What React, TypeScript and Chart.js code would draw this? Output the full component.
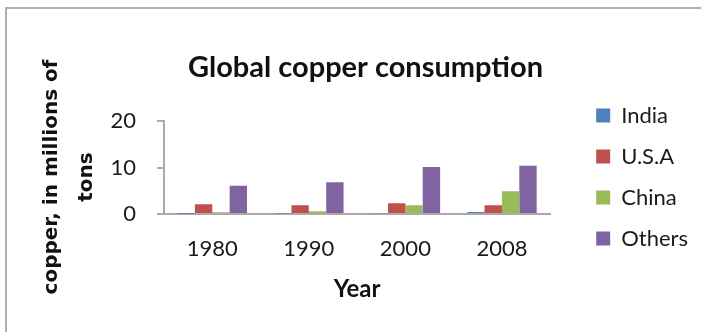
import React, { useEffect, useRef } from "react";
import { Chart, registerables } from "chart.js";

Chart.register(...registerables);

// Copper consumption, millions of tons
const years = ["1980", "1990", "2000", "2008"];
const india = [0.05, 0.1, 0.15, 0.45];
const usa = [2.1, 1.9, 2.3, 1.9];
const china = [0.4, 0.6, 1.9, 4.9];
const others = [6.1, 6.85, 10.1, 10.35];
const yTicks = [0, 10, 20];

const seriesNames = ["India", "U.S.A", "China", "Others"];
const seriesColors = ["#4f81bd", "#c0504d", "#9bbb59", "#8064a2"];

const W = 701;
const H = 332;

export default function App() {
  const canvasRef = useRef<HTMLCanvasElement | null>(null);

  useEffect(() => {
    const canvas = canvasRef.current;
    if (!canvas) return;
    const values = [india, usa, china, others];
    const axisGray = "#aaaaaa";
    const textColor = "#1a1a1a";

    const chart = new Chart(canvas, {
      type: "bar",
      data: {
        labels: years,
        datasets: seriesNames.map((name, i) => ({
          label: name,
          data: values[i],
          backgroundColor: seriesColors[i],
          borderWidth: 0,
          categoryPercentage: 0.72,
          barPercentage: 1.0,
        })),
      },
      options: {
        responsive: false,
        animation: false,
        layout: { padding: { left: 33, right: 3, top: 28, bottom: 6 } },
        plugins: {
          tooltip: { enabled: false },
          title: {
            display: true,
            text: "Global copper consumption",
            color: "#111",
            font: { family: "Lato", size: 29, weight: "bold", lineHeight: 1.2 },
            padding: { top: 22.6, bottom: 35.6 },
          },
          subtitle: {
            display: true,
            position: "left",
            text: ["copper, in millions of", "tons"],
            color: "#111",
            font: { family: "DejaVu Sans", size: 20, weight: "bold", lineHeight: 1.75 },
            padding: { top: 1.5, bottom: 4 },
          },
          legend: {
            position: "right",
            align: "center",
            maxWidth: 220,
            labels: {
              boxWidth: 14,
              boxHeight: 14,
              padding: 19,
              color: textColor,
              font: { family: "Lato", size: 22 },
            },
          },
        },
        scales: {
          x: {
            grid: { display: false, drawTicks: false, tickLength: 0 },
            border: { display: true, color: axisGray, width: 2 },
            ticks: {
              color: textColor,
              padding: 22,
              font: { family: "Lato", size: 22 },
            },
            title: {
              display: true,
              text: "Year",
              color: "#111",
              font: { family: "Lato", size: 24, weight: "bold", lineHeight: 1.2 },
              padding: { top: 0, bottom: 22.6 },
            },
            afterFit: (s: any) => {
              s.height = 112;
            },
          },
          y: {
            min: 0,
            max: 20,
            afterBuildTicks: (s: any) => {
              s.ticks = yTicks.map((v) => ({ value: v }));
            },
            grid: {
              display: true,
              drawOnChartArea: false,
              drawTicks: true,
              tickLength: 7,
              color: axisGray,
              lineWidth: 2,
            },
            border: { display: true, color: axisGray, width: 2 },
            ticks: {
              color: textColor,
              padding: 21,
              font: { family: "Lato", size: 22 },
            },
            afterFit: (s: any) => {
              s.width = 55.5;
            },
          },
          // empty right-hand axis that keeps the legend clear of the plot
          gap: {
            type: "linear",
            position: "right",
            display: true,
            grid: { display: false, drawTicks: false },
            border: { display: false },
            ticks: { display: false },
            afterFit: (s: any) => {
              s.width = 27;
            },
          },
        },
      },
    } as any);

    return () => chart.destroy();
  }, []);

  return (
    <div
      style={{
        position: "fixed",
        left: 0,
        top: 0,
        width: W,
        height: H,
        overflow: "hidden",
        background: "#ffffff",
      }}
    >
      <div
        style={{
          position: "absolute",
          left: 5,
          top: 7,
          width: 800,
          height: 400,
          border: "2px solid #b0b0b0",
        }}
      />
      <canvas
        ref={canvasRef}
        width={W}
        height={H}
        style={{ position: "absolute", left: 0, top: 0, width: W, height: H }}
      />
    </div>
  );
}
